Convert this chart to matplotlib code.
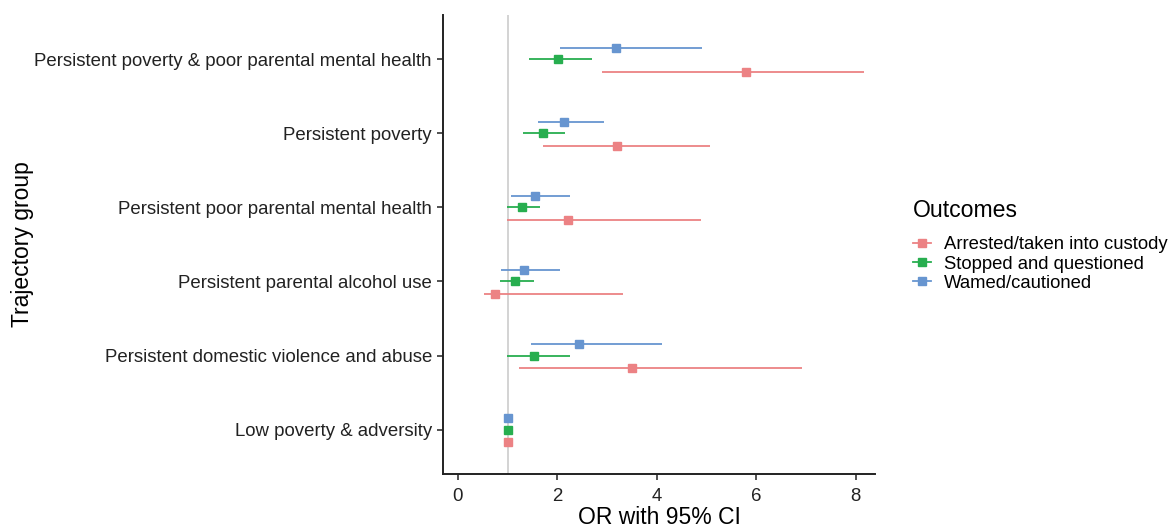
import matplotlib.pyplot as plt
import numpy as np
from matplotlib.lines import Line2D

plt.rcParams['font.family'] = ['Liberation Sans', 'DejaVu Sans']

# trajectory groups, top to bottom
groups = ["Persistent poverty & poor parental mental health",
          "Persistent poverty",
          "Persistent poor parental mental health",
          "Persistent parental alcohol use",
          "Persistent domestic violence and abuse",
          "Low poverty & adversity"]

outcomes = ["Arrested/taken into custody", "Stopped and questioned", "Wamed/cautioned"]

# odds ratios and 95% CI per outcome
arrested_or = [5.79, 3.20, 2.21, 0.74, 3.50, 1.0]
arrested_lo = [2.90, 1.72, 0.99, 0.52, 1.23, 1.0]
arrested_hi = [8.16, 5.08, 4.88, 3.33, 6.92, 1.0]

stopped_or = [2.01, 1.71, 1.29, 1.15, 1.53, 1.0]
stopped_lo = [1.42, 1.30, 0.99, 0.85, 0.99, 1.0]
stopped_hi = [2.70, 2.15, 1.66, 1.53, 2.26, 1.0]

warned_or = [3.18, 2.13, 1.55, 1.33, 2.43, 1.0]
warned_lo = [2.06, 1.61, 1.07, 0.87, 1.46, 1.0]
warned_hi = [4.91, 2.94, 2.25, 2.06, 4.11, 1.0]

colors = ['#EC8284', '#27AE4F', '#6795D0']
offsets = [0.17, 0.0, -0.16]

fig = plt.figure(figsize=(11.72, 5.27), dpi=100)
ax = fig.add_axes([0.378, 0.1006, 0.369, 0.871])

ax.axvline(1, color='#cccccc', lw=1.2, zorder=0)

series = [(arrested_or, arrested_lo, arrested_hi),
          (stopped_or, stopped_lo, stopped_hi),
          (warned_or, warned_lo, warned_hi)]
ypos = np.arange(len(groups))
for (est, lo, hi), c, off in zip(series, colors, offsets):
    y = ypos + off
    ax.hlines(y, lo, hi, color=c, lw=1.3, zorder=2)
    ax.plot(est, y, 's', color=c, ms=5.8, zorder=3)

ax.set_ylim(len(groups) - 1 + 0.6, -0.6)
ax.set_xlim(-0.3, 8.4)
ax.set_yticks(ypos)
ax.set_yticklabels(groups, fontsize=13.4, color='#222222')
ax.set_xticks([0, 2, 4, 6, 8])
ax.set_xticklabels(['0', '2', '4', '6', '8'], fontsize=13.4, color='#222222')
ax.tick_params(length=4, width=1.1, color='#222222')
ax.tick_params(axis='x', pad=6)
ax.tick_params(axis='y', pad=4)
ax.set_xlabel("OR with 95% CI", fontsize=16.5, labelpad=1)
fig.text(23 / 1172, 0.536, "Trajectory group", fontsize=16.5, rotation=90,
         ha='center', va='center')
for s in ['top', 'right']:
    ax.spines[s].set_visible(False)
for s in ['left', 'bottom']:
    ax.spines[s].set_linewidth(1.4)
    ax.spines[s].set_color('#222222')

handles = [Line2D([0], [0], color=c, lw=1.3, marker='s', ms=5.8) for c in colors]
leg = fig.legend(handles, outcomes, loc='upper left', bbox_to_anchor=(0.7646, 0.653),
                 frameon=False, fontsize=13.3, title="Outcomes", title_fontsize=16.6,
                 handlelength=1.0, handletextpad=0.7, labelspacing=0.12)
leg._legend_box.align = 'left'
leg._legend_box.sep = 10

fig.savefig('out.png', dpi=100)
